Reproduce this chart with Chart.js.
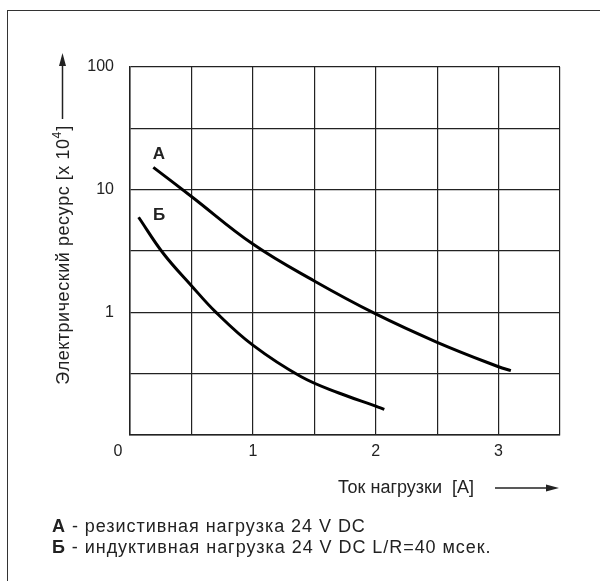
<!DOCTYPE html>
<html>
<head>
<meta charset="utf-8">
<script src="https://cdn.jsdelivr.net/npm/chart.js@4"></script>
<style>
  html, body { margin:0; padding:0; background:#fff; }
  #wrap { position:relative; width:600px; height:581px; overflow:hidden; font-family:"Liberation Sans", Arial, sans-serif; }
  #frame { position:absolute; left:7px; top:10px; width:700px; height:700px; border-left:1.5px solid #333; border-top:1.5px solid #333; }
  #c { position:absolute; left:0; top:0; }
  .leg { position:absolute; left:52px; font-size:18px; line-height:21px; letter-spacing:0.95px; color:#222; white-space:nowrap; }
  .leg b { font-weight:bold; }
</style>
</head>
<body>
<div id="wrap">
  <div id="frame"></div>
  <canvas id="c" width="600" height="581"></canvas>
  <div class="leg" style="top:516px"><b>А</b> - резистивная нагрузка 24 V DC</div>
  <div class="leg" style="top:537px"><b>Б</b> - индуктивная нагрузка 24 V DC L/R=40 мсек.</div>
</div>
<script>
// ---- data ----
const A_X = [0.19, 0.5, 1.0, 1.5, 2.0, 2.5, 3.0, 3.1];
const A_Y = [15.2, 8.8, 3.6, 1.8, 0.97, 0.57, 0.36, 0.335];
const B_X = [0.07, 0.27, 0.5, 0.7, 1.0, 1.39, 1.7, 2.0, 2.07];
const B_Y = [5.96, 3.03, 1.65, 1.0, 0.54, 0.30, 0.22, 0.172, 0.162];
const Y_GRID = [0.1, 0.316, 1, 3.16, 10, 31.6, 100];
const Y_LABELS = {1:'1', 10:'10', 100:'100'};
const X_LABELS = {1:'1', 2:'2', 3:'3'};
const CURVE_LABELS = ['А', 'Б'];

const toPts = (xs, ys) => xs.map((x, i) => ({x, y: ys[i]}));
const FONT = '"Liberation Sans", Arial, sans-serif';

function spacedText(ctx, str, x, y, sp) {
  let cx = x;
  for (const ch of str) {
    ctx.fillText(ch, cx, y);
    cx += ctx.measureText(ch).width + sp;
  }
  return cx - x;
}
function spacedWidth(ctx, str, sp) {
  let w = 0;
  for (const ch of str) w += ctx.measureText(ch).width + sp;
  return w;
}

const annot = {
  id: 'annot',
  afterDraw(chart) {
    const ctx = chart.ctx;
    const xs = chart.scales.x;
    ctx.save();
    ctx.fillStyle = '#222';
    ctx.strokeStyle = '#222';
    // "0" corner label
    ctx.font = '16px ' + FONT;
    ctx.textAlign = 'center';
    ctx.textBaseline = 'middle';
    ctx.fillText('0', xs.getPixelForValue(0) - 12, 452);
    // curve labels
    ctx.font = 'bold 17px ' + FONT;
    ctx.fillText(CURVE_LABELS[0], 159, 154);
    ctx.fillText(CURVE_LABELS[1], 159, 215);
    // x title
    ctx.font = '18px ' + FONT;
    ctx.textAlign = 'left';
    ctx.fillText('Ток нагрузки  [A]', 338, 488);
    // x arrow
    ctx.lineWidth = 1.5;
    ctx.beginPath(); ctx.moveTo(495, 488); ctx.lineTo(548, 488); ctx.stroke();
    ctx.beginPath(); ctx.moveTo(559, 488); ctx.lineTo(546, 484.5); ctx.lineTo(546, 491.5); ctx.closePath(); ctx.fill();
    // y arrow
    ctx.beginPath(); ctx.moveTo(62.5, 119); ctx.lineTo(62.5, 64); ctx.stroke();
    ctx.beginPath(); ctx.moveTo(62.5, 53); ctx.lineTo(59, 66); ctx.lineTo(66, 66); ctx.closePath(); ctx.fill();
    // y title (rotated)
    ctx.translate(64, 255);
    ctx.rotate(-Math.PI / 2);
    const sp = 0.55;
    const t1 = 'Электрический ресурс [x 10', t2 = '4', t3 = ']';
    ctx.font = '18px ' + FONT;
    const w1 = spacedWidth(ctx, t1, sp);
    const w3 = spacedWidth(ctx, t3, sp);
    ctx.font = '12px ' + FONT;
    const w2 = ctx.measureText(t2).width + 1;
    const sx = -(w1 + w2 + w3) / 2;
    ctx.textAlign = 'left';
    ctx.font = '18px ' + FONT;
    spacedText(ctx, t1, sx, 0, sp);
    ctx.font = '12px ' + FONT;
    ctx.fillText(t2, sx + w1, -6);
    ctx.font = '18px ' + FONT;
    spacedText(ctx, t3, sx + w1 + w2, 0, sp);
    ctx.restore();
  }
};

new Chart(document.getElementById('c'), {
  type: 'scatter',
  data: {
    datasets: [
      { data: toPts(A_X, A_Y), showLine: true, borderColor: '#000', borderWidth: 3, pointRadius: 0, tension: 0.4, fill: false },
      { data: toPts(B_X, B_Y), showLine: true, borderColor: '#000', borderWidth: 3, pointRadius: 0, tension: 0.4, fill: false }
    ]
  },
  options: {
    responsive: false,
    animation: false,
    devicePixelRatio: 1,
    layout: { padding: { left: 0, top: 67, right: 40, bottom: 116 } },
    plugins: { legend: { display: false }, tooltip: { enabled: false } },
    scales: {
      x: {
        type: 'linear', min: 0, max: 3.5,
        afterBuildTicks: s => { s.ticks = [0,0.5,1,1.5,2,2.5,3,3.5].map(v => ({value: v})); },
        afterFit: s => { s.height = 30; },
        ticks: { autoSkip: false, padding: 7, color: '#222', font: { size: 16, family: FONT },
                 callback: v => X_LABELS[v] || '' },
        grid: { color: '#222', lineWidth: 1.2, drawTicks: false },
        border: { color: '#222', width: 1.5 }
      },
      y: {
        type: 'logarithmic', min: 0.1, max: 100,
        afterBuildTicks: s => { s.ticks = Y_GRID.map(v => ({value: v})); },
        afterFit: s => { s.width = 130; },
        ticks: { autoSkip: false, padding: 16, color: '#222', font: { size: 16, family: FONT },
                 callback: v => Y_LABELS[v] || '' },
        grid: { color: '#222', lineWidth: 1.2, drawTicks: false },
        border: { color: '#222', width: 1.5 }
      }
    }
  },
  plugins: [annot]
});
</script>
</body>
</html>
